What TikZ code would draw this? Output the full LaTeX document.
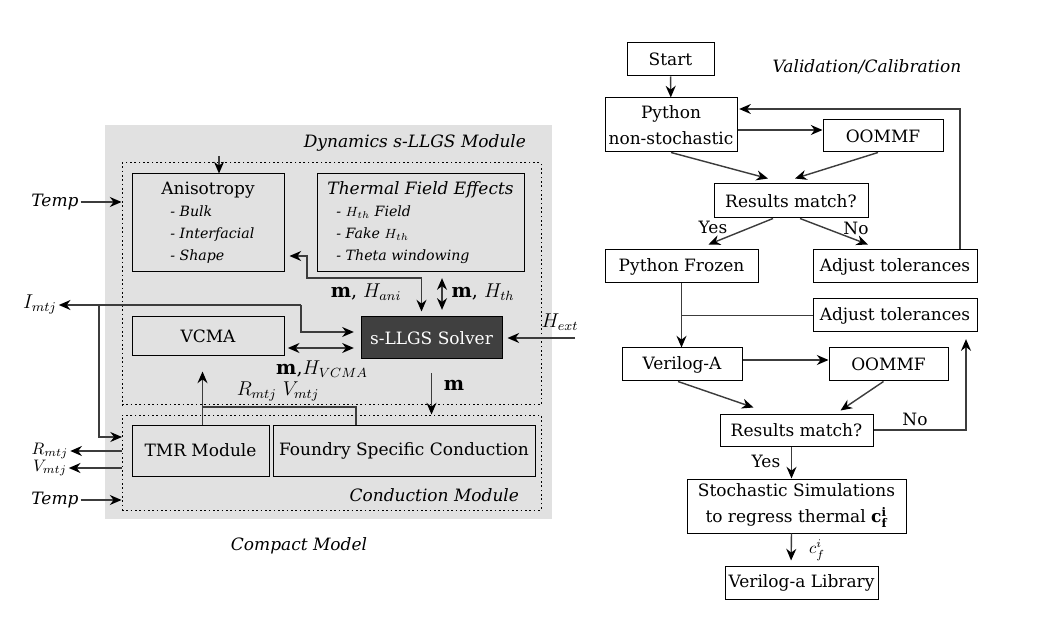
\documentclass[tikz,border=0pt]{standalone}
\usepackage{fontspec}
\setmainfont{DejaVu Serif}
\usetikzlibrary{arrows.meta,positioning,calc}
\definecolor{panelgray}{RGB}{225,225,225}
\definecolor{solvergray}{RGB}{64,64,64}
\definecolor{wiregray}{RGB}{60,60,60}
\newcommand{\txtsz}{\fontsize{10.2}{12.2}\selectfont}
\newcommand{\itmsz}{\fontsize{8.5}{12.2}\selectfont}
\newcommand{\mathsz}{\fontsize{11.5}{13.5}\selectfont}
\tikzset{
  blk/.style={draw=black, line width=0.6pt, font=\txtsz, inner sep=1pt, align=center},
  dotbox/.style={draw=black, line width=0.6pt, dash pattern=on 1pt off 1.6pt, inner sep=0pt},
  wire/.style={wiregray, line width=0.85pt},
  arr/.style={-{Stealth[length=7pt,width=6pt,black]}, wire},
  darr/.style={{Stealth[length=7pt,width=6pt,black]}-{Stealth[length=7pt,width=6pt,black]}, wire},
  lbl/.style={font=\txtsz, inner sep=1pt},
  mlbl/.style={font=\mathsz, inner sep=1pt},
  ilbl/.style={font=\txtsz\itshape, inner sep=1pt},
}

\begin{document}
\begin{tikzpicture}[x=0.6pt,y=-0.6pt]
  \useasboundingbox (0,0) rectangle (1039,621);
  % compact model
  \node[fill=panelgray, minimum width=268.2pt, minimum height=236.4pt, inner sep=0pt] (panel) at (328.5,322) {};
  \node[dotbox, minimum width=251.4pt, minimum height=145.2pt] (dyn) at (331.5,284) {};
  \node[dotbox, minimum width=251.4pt, minimum height=57pt] (cond) at (331.5,462.5) {};
  \node[ilbl, anchor=east] (dyntitle) at (528,143) {Dynamics s-LLGS Module};
  \node[ilbl, anchor=east] (condtitle) at (521,495) {Conduction Module};
  \node[ilbl] (cmtitle) at (299,546) {Compact Model};

  \node[blk, minimum width=91.2pt, minimum height=58.8pt] (aniso) at (208,223)
    {\begin{tabular}{@{}l@{}}\multicolumn{1}{@{}c@{}}{Anisotropy}\\[1pt]
     \itmsz\itshape\ \ - Bulk\\[1pt] \itmsz\itshape\ \ - Interfacial\\[1pt] \itmsz\itshape\ \ - Shape\end{tabular}};
  \node[blk, minimum width=124.2pt, minimum height=58.8pt] (therm) at (420.5,223)
    {\begin{tabular}{@{}l@{}}\multicolumn{1}{@{}c@{}}{\itshape Thermal Field Effects}\\[1pt]
     \itmsz\itshape\ \ - $H_{th}$ Field\\[1pt] \itmsz\itshape\ \ - Fake $H_{th}$\\[1pt] \itmsz\itshape\ \ - Theta windowing\end{tabular}};
  \node[blk, minimum width=91.2pt, minimum height=23.4pt] (vcma) at (208,336.5) {VCMA};
  \node[blk, fill=solvergray, text=white, minimum width=84.6pt, minimum height=25.2pt] (solver) at (431.5,338) {s-LLGS Solver};
  \node[blk, minimum width=82.2pt, minimum height=30.6pt] (tmr) at (200.5,450.5) {TMR Module};
  \node[blk, minimum width=157.2pt, minimum height=30.6pt] (fsc) at (404,450.5) {Foundry Specific Conduction};

  \node[ilbl] (tempA) at (55,202) {Temp};
  \node[mlbl] (imtj) at (40,304) {$I_{mtj}$};
  \node[lbl] (rmtj) at (50,451) {$R_{mtj}$};
  \node[lbl] (vmtj) at (50,468) {$V_{mtj}$};
  \node[ilbl] (tempB) at (55,500) {Temp};
  \node[mlbl] (hext) at (560,322) {$H_{ext}$};
  \node[mlbl] (lani) at (366,292) {$\mathbf{m}$, $H_{ani}$};
  \node[mlbl] (lth) at (483,292) {$\mathbf{m}$, $H_{th}$};
  \node[mlbl] (lvcma) at (322,369) {$\mathbf{m}$,$H_{VCMA}$};
  \node[mlbl] (lrv) at (278,391) {$R_{mtj}$ $V_{mtj}$};
  \node[mlbl] (lm) at (454,385) {$\mathbf{m}$};

  \coordinate (anisoin) at (219,156);
  \coordinate (ibend) at (301,305);
  \coordinate (isplit) at (99,305);
  \coordinate (condin) at (122,437);
  \coordinate (aniback) at (307,278);
  \coordinate (hextsrc) at (575,338);
  \coordinate (rvjoin) at (202.5,407);

  \draw[arr] (anisoin) -- (anisoin |- aniso.north);
  \draw[arr] (tempA.east) -- (tempA -| dyn.west);
  \draw[arr] (ibend) -- (ibend -| imtj.east);
  \draw[arr, shorten >=4pt] (ibend) |- ($(solver.west)+(0,-6)$);
  \draw[arr] (isplit) |- (condin);
  \draw[darr, shorten <=2pt, shorten >=4pt] ($(vcma.east)+(0,11.5)$) -- ($(solver.west)+(0,10)$);
  \draw[darr, shorten <=3pt, shorten >=3pt] ($(aniso.east)+(0,33)$) -| (aniback) -| ($(solver.north)+(-10,0)$);
  \draw[darr, shorten <=4pt, shorten >=4pt] ($(solver.north)+(10.5,0)$) -- ($(solver.north)+(10.5,-45)$);
  \draw[arr, shorten >=3pt] (hextsrc) -- (solver.east);
  \draw[arr] ($(solver.south)+(0,14)$) -- (cond.north -| solver.south);
  \draw[arr, shorten >=9pt] (tmr.north -| rvjoin) -- (vcma.south -| rvjoin);
  \draw[wire] ($(fsc.north)+(-48,0)$) |- (rvjoin);
  \draw[arr] (rmtj -| cond.west) -- (rmtj.east);
  \draw[arr] (vmtj -| cond.west) -- (vmtj.east);
  \draw[arr] (tempB.east) -- (tempB -| cond.west);

  % validation / calibration flow
  \node[blk, minimum width=52.2pt, minimum height=19.8pt] (start) at (670.5,59.5) {Start};
  \node[ilbl] (valcal) at (867,67) {Validation/Calibration};
  \node[blk, minimum width=79.2pt, minimum height=32.4pt] (pyns) at (671,125) {Python\\[3pt]non-stochastic};
  \node[blk, minimum width=72pt, minimum height=19.2pt] (oomA) at (883,136) {OOMMF};
  \node[blk, minimum width=92.4pt, minimum height=20.4pt] (rmA) at (791,201) {Results match?};
  \node[blk, minimum width=91.8pt, minimum height=19.8pt] (pyfz) at (681.5,266.5) {Python Frozen};
  \node[blk, minimum width=98.4pt, minimum height=19.8pt] (adjA) at (895,266.5) {Adjust tolerances};
  \node[blk, minimum width=98.4pt, minimum height=19.8pt] (adjB) at (895,315.5) {Adjust tolerances};
  \node[blk, minimum width=72pt, minimum height=19.8pt] (vera) at (682,364.5) {Verilog-A};
  \node[blk, minimum width=71.4pt, minimum height=19.8pt] (oomB) at (888.5,364.5) {OOMMF};
  \node[blk, minimum width=91.8pt, minimum height=19.2pt] (rmB) at (796.5,430) {Results match?};
  \node[blk, minimum width=131.4pt, minimum height=32.4pt] (stoch) at (796.5,506)
    {Stochastic Simulations\\[3pt]to regress thermal $\mathbf{c}^{\mathbf{i}}_{\mathbf{f}}$};
  \node[blk, minimum width=91.8pt, minimum height=19.8pt] (lib) at (801.5,582.5) {Verilog-a Library};

  \node[lbl] (yesA) at (713,227) {Yes};
  \node[lbl] (noA) at (856,228) {No};
  \node[lbl] (noB) at (915,419) {No};
  \node[lbl] (yesB) at (766,461) {Yes};
  \node[lbl] (cfi) at (817,550) {$c_f^i$};

  \draw[arr] (start) -- (pyns);
  \draw[arr] ($(pyns.east)+(0,5)$) -- ($(oomA.west)+(0,-6)$);
  \draw[arr, shorten >=1pt] ($(adjA.north)+(65,0)$) |- ($(pyns.east)+(0,-16)$);
  \draw[arr] (pyns.south) -- ($(rmA.north)+(-23,-5)$);
  \draw[arr] ($(oomA.south)+(-5,0)$) -- ($(rmA.north)+(4,-5)$);
  \draw[arr] ($(rmA.south)+(-18,0)$) -- ($(pyfz.north)+(27,-5)$);
  \draw[arr] ($(rmA.south)+(9,0)$) -- ($(adjA.north)+(-27,-5)$);
  \draw[arr] (pyfz.south) -- (pyfz.south |- vera.north);
  \draw[wire] (adjB.west) -- (adjB.west -| pyfz.south);
  \draw[arr] ($(vera.east)+(0,-4.5)$) -- ($(oomB.west)+(0,-4.5)$);
  \draw[arr] ($(vera.south)+(-4,0)$) -- ($(rmB.north)+(-43,-6)$);
  \draw[arr] ($(oomB.south)+(-5,0)$) -- ($(rmB.north)+(44,-3)$);
  \draw[arr, shorten >=4pt] (rmB.east) -| ($(adjB.south)+(71,0)$);
  \draw[arr] ($(rmB.south)+(-5,0)$) -- ($(stoch.north)+(-5,0)$);
  \draw[arr, shorten >=3pt] ($(stoch.south)+(-5,0)$) -- ($(lib.north)+(-10.5,0)$);
\end{tikzpicture}
\end{document}
